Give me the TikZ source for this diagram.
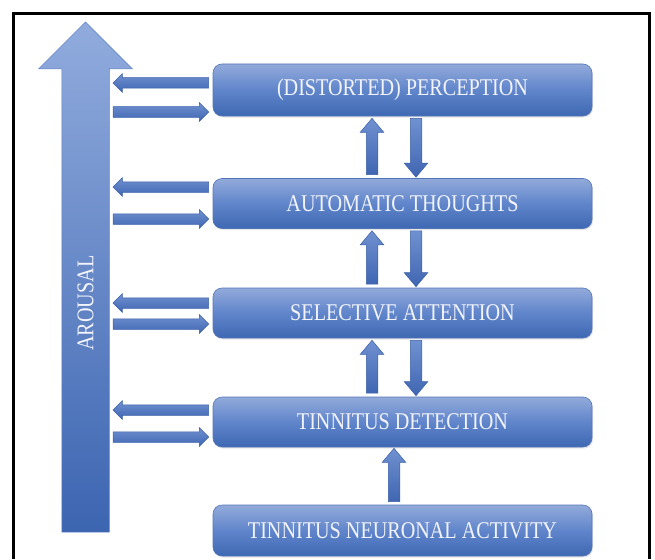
\documentclass[tikz,border=0pt]{standalone}
\usepackage{fontspec}
\newfontfamily\boxfont{Liberation Serif}[FakeStretch=0.84]
\usetikzlibrary{shapes.arrows,calc,shadows}
\definecolor{boxtop}{RGB}{146,170,218}
\definecolor{boxmid}{RGB}{96,133,203}
\definecolor{boxbot}{RGB}{62,104,178}
\definecolor{boxline}{RGB}{84,118,186}
\definecolor{arrlight}{RGB}{112,145,208}
\definecolor{arrdark}{RGB}{64,102,178}
\definecolor{arrline}{RGB}{58,95,168}
\definecolor{bigtop}{RGB}{145,171,221}
\definecolor{bigbot}{RGB}{60,101,177}
\definecolor{bigline}{RGB}{95,130,196}
\definecolor{txt}{RGB}{242,244,250}
\tikzset{
  stagebox/.style={rectangle, rounded corners=9pt, minimum width=379pt, minimum height=50pt,
    draw=boxline, line width=0.6pt, top color=boxtop, bottom color=boxbot, middle color=boxmid,
    text=txt, font=\boxfont\fontsize{24}{24}\selectfont,
    drop shadow={shadow xshift=1pt,shadow yshift=-1.5pt,opacity=0.2}},
  arrbase/.style={single arrow, line width=0.5pt, inner xsep=0pt, outer sep=0pt,
    text height=0pt, text depth=0pt},
  harr/.style={arrbase, draw=arrline, inner ysep=5pt, single arrow head extend=4pt,
    top color=arrlight, bottom color=arrdark},
  varr/.style={arrbase, draw=arrline, inner ysep=5.5pt, single arrow head extend=6pt,
    single arrow tip angle=80, top color=arrlight, bottom color=arrdark},
  bigarr/.style={arrbase, draw=bigline, inner ysep=23.5pt, single arrow head extend=23pt,
    top color=bigtop, bottom color=bigbot},
  labeltext/.style={text=txt, font=\boxfont\fontsize{24}{24}\selectfont}
}
\newcommand\barrow[4]{%
  \path let \p1=(#3), \p2=(#4), \n1={atan2(\y2-\y1,\x2-\x1)},
    \n2={veclen(\x2-\x1,\y2-\y1)} in
    node[#2, rotate=\n1, minimum height=\n2, anchor=tail] (#1) at (\p1) {};}
\begin{document}
\begin{tikzpicture}[x=1pt,y=-1pt]
\useasboundingbox (0,0) rectangle (655,559);
% frame
\draw[line width=2.6pt] (13.5,559) |- (649.5,13.5) -- (649.5,559);
% big arousal arrow
\coordinate (abot) at (85.5,532);
\coordinate (atop) at (85.5,22);
\barrow{arousal}{bigarr}{abot}{atop}
\node[labeltext, rotate=90] (arlabel) at (85.5,303) {AROUSAL};
% boxes
\node[stagebox, minimum height=52pt] (b1) at (402.5,90) {(DISTORTED) PERCEPTION};
\node[stagebox] (b2) at (402.5,203.5) {AUTOMATIC THOUGHTS};
\node[stagebox] (b3) at (402.5,313) {SELECTIVE ATTENTION};
\node[stagebox] (b4) at (402.5,422) {TINNITUS DETECTION};
\node[stagebox, minimum height=51pt] (b5) at (402.5,530.5) {TINNITUS NEURONAL ACTIVITY};
% horizontal arrows to/from arousal
\coordinate (ax) at (113,0);
\foreach \b/\up/\dn in {b1/-7/22, b2/-16.5/15.5, b3/-10/11, b4/-12/15}{
  \coordinate (\b sL) at ($(\b.west)+(-4,\up)$);
  \coordinate (\b eL) at (ax |- \b sL);
  \coordinate (\b eR) at ($(\b.west)+(-4,\dn)$);
  \coordinate (\b sR) at (ax |- \b eR);
  \barrow{\b aL}{harr}{\b sL}{\b eL}
  \barrow{\b aR}{harr}{\b sR}{\b eR}
}
% vertical arrows
\coordinate (u12s) at ($(b2.north)+(-30.5,-3.5)$);
\coordinate (u12e) at ($(b1.south)+(-30.5,2)$);
\coordinate (d12s) at ($(b1.south)+(13.5,2)$);
\coordinate (d12e) at ($(b2.north)+(13.5,-1)$);
\barrow{u12}{varr}{u12s}{u12e}
\barrow{d12}{varr}{d12s}{d12e}
\coordinate (u23s) at ($(b3.north)+(-30.5,-3.5)$);
\coordinate (u23e) at ($(b2.south)+(-30.5,2)$);
\coordinate (d23s) at ($(b2.south)+(13.5,2)$);
\coordinate (d23e) at ($(b3.north)+(13.5,-1)$);
\barrow{u23}{varr}{u23s}{u23e}
\barrow{d23}{varr}{d23s}{d23e}
\coordinate (u34s) at ($(b4.north)+(-30.5,-3.5)$);
\coordinate (u34e) at ($(b3.south)+(-30.5,2)$);
\coordinate (d34s) at ($(b3.south)+(13.5,2)$);
\coordinate (d34e) at ($(b4.north)+(13.5,-1)$);
\barrow{u34}{varr}{u34s}{u34e}
\barrow{d34}{varr}{d34s}{d34e}
\coordinate (u45s) at ($(b5.north)+(-8.5,-3)$);
\coordinate (u45e) at ($(b4.south)+(-8.5,1)$);
\barrow{u45}{varr}{u45s}{u45e}
\end{tikzpicture}
\end{document}
